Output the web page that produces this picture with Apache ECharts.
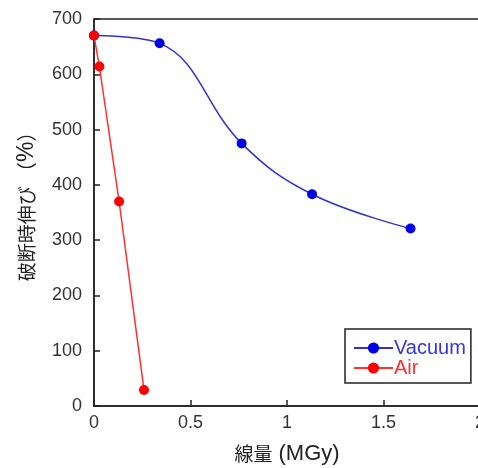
<!DOCTYPE html>
<html><head><meta charset="utf-8">
<script src="https://cdn.jsdelivr.net/npm/echarts@6/dist/echarts.min.js"></script>
<style>html,body{margin:0;padding:0;background:#fff}#c{width:478px;height:468px}</style>
</head><body><div id="c"></div>
<script>
const vacuumX = [0, 0.34, 0.765, 1.13, 1.64];
const vacuumY = [670, 656, 475, 383, 321];
const airX = [0, 0.028, 0.13, 0.259];
const airY = [670, 614, 370, 29];
const xTicks = ['0', '0.5', '1', '1.5', '2'];
const seriesNames = ['Vacuum', 'Air'];

const chart = echarts.init(document.getElementById('c'), null, {renderer: 'canvas'});
const font = 'Arial, "Liberation Sans", "Noto Sans CJK JP", sans-serif';
const cjk = '"Noto Sans CJK JP", sans-serif';
chart.setOption({
  animation: false,
  backgroundColor: '#fff',
  grid: {left: 94, top: 19, width: 386, height: 387, show: true, borderColor: '#222', borderWidth: 1.5,
         containLabel: false, outerBoundsMode: 'none'},
  legend: {
    left: 345, top: 329, orient: 'vertical', itemGap: 0,
    padding: [9, 5, 5, 8],
    borderColor: '#222', borderWidth: 1.5, backgroundColor: '#fff',
    itemWidth: 39, itemHeight: 14,
    data: [
      {name: seriesNames[0], textStyle: {color: '#3535d8'}},
      {name: seriesNames[1], textStyle: {color: '#ff3030'}}
    ],
    textStyle: {fontSize: 20, lineHeight: 20, fontFamily: font, padding: [0,0,0,-4]}
  },
  xAxis: {
    type: 'value', min: 0, max: 2, interval: 0.5,
    name: '{c|線量}{l| (MGy)}', nameLocation: 'middle', nameGap: 37,
    nameTextStyle: {color: '#222', rich: {
      c: {fontSize: 19, fontFamily: cjk, color: '#222'},
      l: {fontSize: 22, fontFamily: font, color: '#222'}
    }},
    axisLine: {show: true, lineStyle: {color: '#222', width: 1.5}},
    axisTick: {show: true, inside: true, length: 6, lineStyle: {color: '#222', width: 1.5}},
    axisLabel: {fontSize: 18, fontFamily: font, color: '#333', margin: 8,
      formatter: v => xTicks[Math.round(v / 0.5)]},
    splitLine: {show: false}
  },
  yAxis: {
    type: 'value', min: 0, max: 700, interval: 100,
    name: '{c|破断時伸び }{p|（}{l|%}{p|）}', nameLocation: 'middle', nameGap: 56, nameRotate: 90,
    nameTextStyle: {color: '#222', padding: [0, 0, 0, 22], rich: {
      c: {fontSize: 19, fontFamily: cjk, color: '#222'},
      p: {fontSize: 20, fontFamily: cjk, color: '#222'},
      l: {fontSize: 23, fontFamily: font, color: '#222'}
    }},
    axisLine: {show: true, lineStyle: {color: '#222', width: 1.5}},
    axisTick: {show: true, inside: true, length: 6, lineStyle: {color: '#222', width: 1.5}},
    axisLabel: {fontSize: 18, fontFamily: font, color: '#333', margin: 12},
    splitLine: {show: false}
  },
  series: [
    {name: seriesNames[0], type: 'line', smooth: 0.4,
     data: vacuumX.map((x, i) => [x, vacuumY[i]]),
     symbol: 'circle', symbolSize: 10,
     lineStyle: {color: '#3333cc', width: 1.5}, itemStyle: {color: '#0000e6'}},
    {name: seriesNames[1], type: 'line',
     data: airX.map((x, i) => [x, airY[i]]),
     symbol: 'circle', symbolSize: 10,
     lineStyle: {color: '#ff3030', width: 1.5}, itemStyle: {color: '#ff0000'}}
  ]
});
</script></body></html>
